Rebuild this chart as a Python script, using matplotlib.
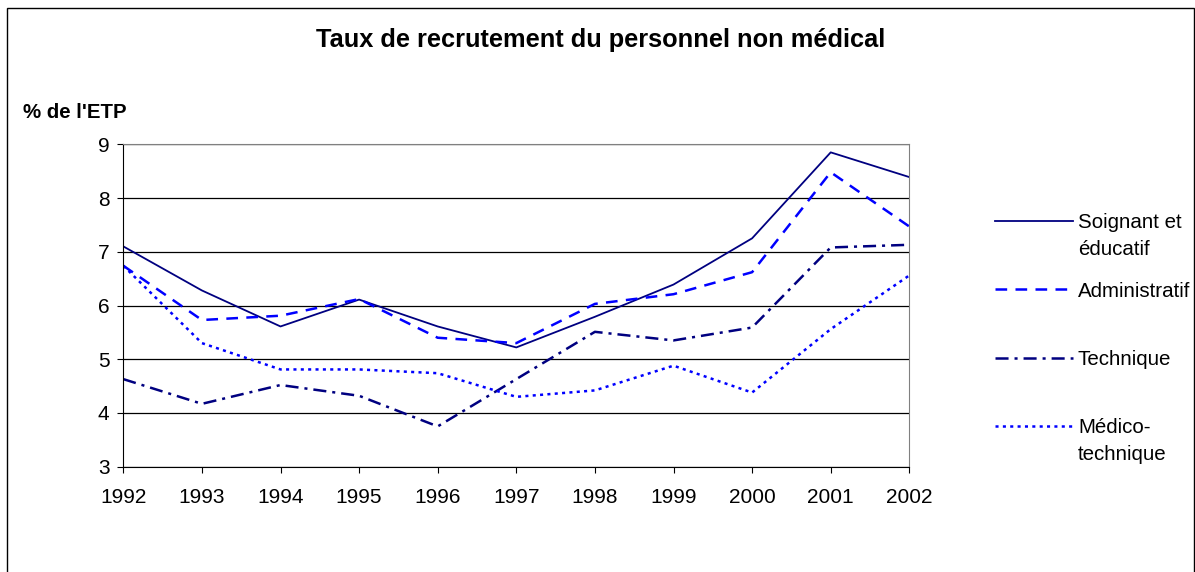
import matplotlib
matplotlib.use("Agg")
import matplotlib.pyplot as plt
from matplotlib.lines import Line2D
from matplotlib.patches import Rectangle

plt.rcParams["font.family"] = ["Liberation Sans", "DejaVu Sans"]
plt.rcParams["lines.scale_dashes"] = False

# data
years = [1992, 1993, 1994, 1995, 1996, 1997, 1998, 1999, 2000, 2001, 2002]
soignant = [7.10, 6.28, 5.61, 6.11, 5.61, 5.22, 5.79, 6.39, 7.25, 8.85, 8.39]
administratif = [6.74, 5.73, 5.81, 6.12, 5.40, 5.30, 6.03, 6.21, 6.62, 8.48, 7.47]
technique = [4.63, 4.17, 4.52, 4.32, 3.75, 4.63, 5.51, 5.35, 5.59, 7.08, 7.13]
medico = [6.74, 5.30, 4.81, 4.81, 4.74, 4.30, 4.42, 4.88, 4.38, 5.56, 6.56]

labels = [["Soignant et", "éducatif"], ["Administratif"], ["Technique"], ["Médico-", "technique"]]
yticks = [3, 4, 5, 6, 7, 8, 9]

W, H = 1195, 572
fig = plt.figure(figsize=(W / 100, H / 100), dpi=100)

# outer chart frame
fig.add_artist(Rectangle((7 / W, -0.05), (1194 - 7) / W, 1 - 8 / H + 0.05,
                         transform=fig.transFigure, fill=False, ec="black", lw=1))

ax = fig.add_axes([123.3 / W, 1 - 466.7 / H, 786 / W, 322.4 / H])

styles = [
    dict(color="#000080", lw=1.3, linestyle="-"),
    dict(color="#0000FF", lw=1.8, dashes=(8.4, 6)),
    dict(color="#000080", lw=1.8, dashes=(9.4, 4.3, 2.2, 4.3)),
    dict(color="#0000FF", lw=1.8, dashes=(2.2, 3.1)),
]
series = [soignant, administratif, technique, medico]

for vals, st in zip(series, styles):
    ax.plot(years, vals, **st)

ax.set_xlim(1992, 2002)
ax.set_ylim(3, 9)
ax.set_xticks(years)
ax.set_yticks(yticks)
ax.tick_params(axis="both", labelsize=15, direction="out", length=4, color="black")
ax.tick_params(axis="x", pad=11.5)
ax.tick_params(axis="y", pad=6)
ax.yaxis.grid(True, color="black", lw=0.9)
ax.set_axisbelow(True)
for side in ["top", "right"]:
    ax.spines[side].set_color("#808080")
for side in ["left", "bottom"]:
    ax.spines[side].set_color("black")

fig.text(601 / W, 1 - 47.5 / H, "Taux de recrutement du personnel non médical",
         ha="center", va="baseline", fontsize=18.3, fontweight="bold")
fig.text(22.7 / W, 1 - 118.3 / H, "% de l'ETP", ha="left", va="baseline",
         fontsize=14.7, fontweight="bold")

# legend drawn by hand: handle aligned with the first text line
for i, (lab, st) in enumerate(zip(labels, styles)):
    ly = 221 + i * 68.3
    fig.add_artist(Line2D([995 / W, 1073 / W], [1 - ly / H, 1 - ly / H],
                          transform=fig.transFigure, **st))
    for j, line in enumerate(lab):
        fig.text(1078 / W, 1 - (ly + 7.3 + j * 26.7) / H, line,
                 ha="left", va="baseline", fontsize=14.8)

fig.savefig("out.png", dpi=100)
